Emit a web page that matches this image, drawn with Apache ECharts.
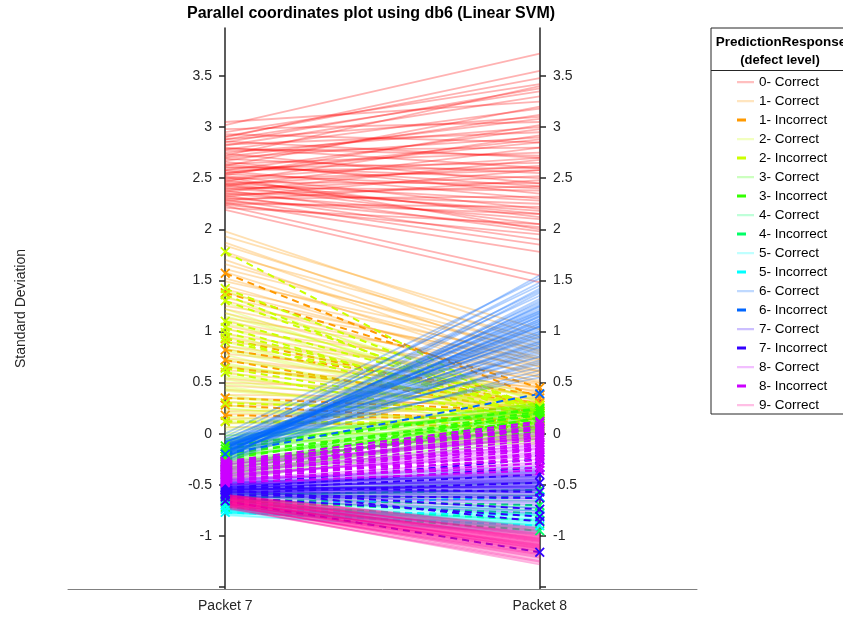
<!DOCTYPE html>
<html><head><meta charset="utf-8">
<script src="https://cdn.jsdelivr.net/npm/echarts@6/dist/echarts.min.js"></script>
<style>html,body{margin:0;padding:0;background:#fff}#c{width:843px;height:617px}</style>
</head><body><div id="c"></div>
<script>
const categories = ['Packet 7', 'Packet 8'];
const yTicks = [-1.5, -1, -0.5, 0, 0.5, 1, 1.5, 2, 2.5, 3, 3.5];
const yLabels = [-1, -0.5, 0, 0.5, 1, 1.5, 2, 2.5, 3, 3.5];
const legendTitle = ['PredictionResponse', '(defect level)'];
const classNames = ['0- Correct','1- Correct','1- Incorrect','2- Correct','2- Incorrect','3- Correct','3- Incorrect','4- Correct','4- Incorrect','5- Correct','5- Incorrect','6- Correct','6- Incorrect','7- Correct','7- Incorrect','8- Correct','8- Incorrect','9- Correct'];

const c0_p7 = [3.05,3.02,2.98,2.95,2.93,2.90,2.88,2.86,2.85,2.83,
 2.82,2.80,2.78,2.77,2.75,2.74,2.72,2.70,2.69,2.67,
 2.66,2.64,2.62,2.61,2.60,2.58,2.57,2.55,2.54,2.53,
 2.52,2.50,2.49,2.48,2.47,2.46,2.45,2.44,2.43,2.42,
 2.41,2.40,2.39,2.38,2.37,2.36,2.35,2.34,2.33,2.32,
 2.31,2.30,2.29,2.28,2.27,2.26,2.25,2.24,2.23,2.21,
 2.19,2.88,2.55,2.71,2.63,2.44,2.58,2.91,2.79,2.51];
const c0_p8 = [3.25,3.72,3.05,3.42,2.85,3.55,3.10,2.70,3.38,2.95,
 3.30,2.60,3.18,2.80,3.00,2.45,3.40,2.90,2.55,3.12,
 2.35,2.75,3.20,2.50,2.65,2.98,2.30,2.85,2.40,3.02,
 2.20,2.70,2.58,2.12,2.92,2.45,2.28,2.62,2.05,2.80,
 2.38,2.18,2.52,1.98,2.68,2.25,2.10,2.42,1.90,2.58,
 2.02,2.32,1.85,2.48,2.15,1.78,2.22,1.95,1.55,2.05,
 1.48,3.35,2.88,3.08,2.42,2.15,2.60,3.48,2.72,2.00];

const c1_p7 = [1.98,1.93,1.87,1.84,1.78,1.75,1.70,1.66,1.61,1.58,
 1.52,1.49,1.45,1.41,1.38,1.33,1.30,1.25,1.22,1.18,
 1.13,1.10,1.06,1.02,0.98,0.95,0.90,0.86,0.83,0.78,
 0.74,0.71,0.66,0.62,0.59,0.54,0.50,0.47,0.43,0.38,
 0.35,0.31,0.27,0.22,0.19,0.14,0.10,0.06];
const c1_p8 = [0.95,1.02,0.80,0.88,0.72,0.92,0.65,0.78,0.85,0.60,
 0.70,0.82,0.55,0.75,0.62,0.68,0.50,0.73,0.58,0.45,
 0.66,0.52,0.40,0.61,0.48,0.35,0.56,0.44,0.30,0.50,
 0.38,0.42,0.28,0.46,0.33,0.25,0.40,0.30,0.22,0.35,
 0.27,0.20,0.32,0.24,0.18,0.28,0.21,0.16];
const c1i_p7 = [1.57,1.38,0.93,0.82,0.72,0.65,0.35,0.28,0.18,0.12];
const c1i_p8 = [0.35,0.45,0.28,0.38,0.20,0.30,0.22,0.10,0.14,0.06];

const c2_p7 = [1.40,1.35,1.28,1.22,1.18,1.12,1.08,1.03,0.98,0.94,
 0.90,0.86,0.81,0.77,0.73,0.69,0.65,0.61,0.57,0.53,
 0.49,0.46,0.42,0.38,0.35,0.31,0.28,0.24,0.21,0.17,
 0.14,0.10,0.07,0.04,0.01,-0.02,-0.05,-0.08,0.55,0.83,
 1.15,0.25,0.67,0.12,0.44];
const c2_p8 = [0.30,0.22,0.35,0.18,0.26,0.12,0.32,0.20,0.15,0.28,
 0.08,0.24,0.17,0.05,0.21,0.13,0.27,0.02,0.19,0.10,
 0.23,0.06,0.16,0.00,0.12,0.20,-0.03,0.09,0.14,-0.06,
 0.04,0.11,-0.08,0.07,-0.02,0.03,-0.10,-0.05,0.25,0.18,
 0.33,0.01,0.29,-0.04,0.14];
const c2i_p7 = [1.78,1.42,1.36,1.30,1.10,1.04,0.99,0.94,0.90,0.64,0.60,0.30,0.12];
const c2i_p8 = [0.18,0.25,0.12,0.20,0.28,0.15,0.22,0.08,0.26,0.14,0.05,0.20,0.10];

const c3_p7 = [-0.05,-0.10,-0.14,-0.18,-0.22,-0.25,-0.28,-0.31,-0.34,-0.37,
 -0.40,-0.43,-0.08,-0.16,-0.24,-0.30,-0.36,-0.12,-0.20,-0.27,
 -0.33,-0.02,-0.39,-0.45,-0.15,-0.26,-0.06,-0.35,-0.21,-0.42];
const c3_p8 = [0.28,0.22,0.15,0.25,0.10,0.20,0.05,0.18,0.12,0.02,
 0.08,-0.02,0.30,0.14,0.24,0.06,0.16,0.26,0.11,0.03,
 0.21,0.19,0.00,-0.05,0.27,0.09,0.23,0.13,0.04,0.07];
const c3i_p7 = [-0.15,-0.20,-0.25,-0.18,-0.30,-0.22,-0.35,-0.28,-0.12,-0.26,-0.32,-0.40];
const c3i_p8 = [0.25,0.18,0.22,0.12,0.20,0.08,0.15,0.05,0.24,0.02,0.10,0.16];

const c4_p7 = [-0.55,-0.58,-0.61,-0.63,-0.66,-0.60,-0.69,-0.57,-0.65,-0.62];
const c4_p8 = [-0.48,-0.60,-0.72,-0.80,-0.90,-0.55,-0.85,-0.66,-0.75,-0.95];
const c4i_p7 = [-0.60,-0.64,-0.68,-0.72,-0.62,-0.66];
const c4i_p8 = [-0.55,-0.70,-0.85,-0.95,-0.62,-0.78];

const c5_p7 = [-0.72,-0.74,-0.75,-0.76,-0.77,-0.78,-0.73,-0.79,-0.75,-0.74,
 -0.77,-0.71,-0.76,-0.78,-0.73,-0.80,-0.75,-0.77,-0.74,-0.76];
const c5_p8 = [-0.78,-0.85,-0.92,-0.80,-0.95,-0.88,-0.75,-0.98,-0.83,-0.90,
 -0.86,-0.72,-0.93,-0.81,-0.87,-0.96,-0.79,-0.91,-0.84,-0.89];
const c5i_p7 = [-0.70,-0.74,-0.77];
const c5i_p8 = [-0.62,-0.80,-0.90];

const c6_p7 = [-0.05,-0.08,-0.10,-0.12,-0.14,-0.15,-0.17,-0.18,-0.20,-0.21,
 -0.22,-0.24,-0.25,-0.27,-0.09,-0.11,-0.13,-0.16,-0.19,-0.23,
 -0.06,-0.12,-0.18,-0.20,-0.15,-0.10,-0.22,-0.14,-0.17,-0.26,
 -0.03,-0.08,-0.13,-0.19,-0.21,-0.11,-0.16,-0.24,-0.07,-0.18,
 -0.12,-0.20,-0.15,-0.09,-0.23,-0.14,-0.17,-0.10,-0.19,-0.13,
 0.00,-0.28,-0.16,-0.21,-0.11,-0.18,-0.08,-0.14,-0.22,-0.12];
const c6_p8 = [1.20,0.95,1.40,0.80,1.10,1.55,0.70,1.25,0.90,1.05,
 0.62,1.32,0.85,1.15,1.48,1.00,0.75,1.22,0.92,1.08,
 1.35,0.68,1.18,0.98,1.28,0.88,1.12,0.58,1.02,0.82,
 1.45,1.14,0.94,1.24,0.72,1.06,0.86,1.30,0.65,1.16,
 0.96,1.38,1.04,0.78,1.26,0.90,1.10,0.55,1.20,1.00,
 1.52,0.84,1.08,1.42,0.76,1.12,0.98,1.18,0.88,1.05];
const c6i_p7 = [-0.20];
const c6i_p8 = [0.39];

const c7_p7 = [-0.45,-0.47,-0.48,-0.50,-0.51,-0.52,-0.53,-0.54,-0.55,-0.56,
 -0.57,-0.58,-0.59,-0.60,-0.61,-0.62,-0.49,-0.52,-0.55,-0.57,
 -0.50,-0.53,-0.56,-0.58,-0.54,-0.51,-0.59,-0.46,-0.60,-0.55,
 -0.52,-0.57,-0.49,-0.54,-0.58,-0.53,-0.56,-0.50,-0.61,-0.48,
 -0.55,-0.52,-0.57,-0.54,-0.63];
const c7_p8 = [-0.32,-0.42,-0.36,-0.48,-0.39,-0.52,-0.45,-0.57,-0.47,-0.54,
 -0.60,-0.50,-0.63,-0.55,-0.66,-0.61,-0.41,-0.46,-0.51,-0.58,
 -0.44,-0.53,-0.48,-0.64,-0.52,-0.37,-0.70,-0.34,-0.73,-0.49,
 -0.45,-0.56,-0.40,-0.53,-0.68,-0.43,-0.55,-0.42,-0.76,-0.38,
 -0.51,-0.47,-0.61,-0.58,-0.78];
const c7i_p7 = [-0.50,-0.53,-0.55,-0.58,-0.52,-0.60,-0.56,-0.62,-0.54,-0.66];
const c7i_p8 = [-0.25,-0.33,-0.40,-0.48,-0.57,-0.63,-0.74,-0.81,-0.86,-1.16];

const c8_p7 = [-0.28,-0.30,-0.33,-0.35,-0.38,-0.40,-0.42,-0.45,-0.47,-0.50,
 -0.31,-0.36,-0.41,-0.44,-0.29,-0.34,-0.39,-0.46,-0.37,-0.43];
const c8_p8 = [0.05,-0.05,0.00,-0.12,-0.08,-0.20,-0.15,-0.25,-0.30,-0.35,
 0.08,-0.02,-0.18,-0.10,-0.04,0.02,-0.22,-0.28,-0.14,-0.40];
const c8i_p7 = [-0.27,-0.29,-0.31,-0.33,-0.35,-0.37,-0.39,-0.41,-0.43,-0.45,
 -0.47,-0.30,-0.34,-0.38,-0.42,-0.46,-0.28,-0.32,-0.36,-0.40,-0.44,-0.48];
const c8i_p8 = [0.12,0.07,0.04,0.01,-0.03,-0.06,-0.09,-0.13,-0.16,-0.19,
 -0.23,0.10,-0.01,-0.11,-0.21,-0.29,0.05,-0.04,-0.15,-0.26,-0.33,-0.36];

const c9_p7 = [-0.60,-0.61,-0.62,-0.63,-0.64,-0.65,-0.66,-0.67,-0.68,-0.69,
 -0.70,-0.71,-0.72,-0.61,-0.63,-0.65,-0.67,-0.69,-0.62,-0.64,
 -0.66,-0.68,-0.70,-0.60,-0.63,-0.66,-0.69,-0.72,-0.62,-0.65,
 -0.68,-0.71,-0.61,-0.64,-0.67,-0.70,-0.63,-0.66,-0.69,-0.62,
 -0.65,-0.68,-0.64,-0.67,-0.71,-0.73,-0.60,-0.66,-0.63,-0.69];
const c9_p8 = [-0.92,-0.95,-1.00,-0.98,-1.05,-1.02,-1.10,-1.08,-1.15,-1.12,
 -1.20,-1.18,-1.25,-0.96,-1.03,-1.07,-1.13,-1.17,-0.99,-1.04,
 -1.09,-1.14,-1.22,-0.94,-1.01,-1.11,-1.16,-1.28,-0.97,-1.06,
 -1.12,-1.19,-1.00,-1.05,-1.10,-1.24,-1.02,-1.08,-1.15,-0.98,
 -1.06,-1.13,-1.03,-1.09,-1.21,-1.26,-0.93,-1.11,-1.04,-1.18];

const classP7 = [c0_p7,c1_p7,c1i_p7,c2_p7,c2i_p7,c3_p7,c3i_p7,c4_p7,c4i_p7,c5_p7,c5i_p7,c6_p7,c6i_p7,c7_p7,c7i_p7,c8_p7,c8i_p7,c9_p7];
const classP8 = [c0_p8,c1_p8,c1i_p8,c2_p8,c2i_p8,c3_p8,c3i_p8,c4_p8,c4i_p8,c5_p8,c5i_p8,c6_p8,c6i_p8,c7_p8,c7i_p8,c8_p8,c8i_p8,c9_p8];
const classIncorrect = [false,false,true,false,true,false,true,false,true,false,true,false,true,false,true,false,true,false];

// styles
const baseRGB = {0:[255,0,0],1:[255,153,0],2:[204,255,0],3:[51,255,0],4:[0,255,102],5:[0,255,255],6:[0,102,255],7:[51,0,255],8:[204,0,255],9:[255,0,153]};
function rgba(c, a){ return 'rgba(' + c[0] + ',' + c[1] + ',' + c[2] + ',' + a + ')'; }
const X_PATH = 'path://M0,1.3L1.3,0L5,3.7L8.7,0L10,1.3L6.3,5L10,8.7L8.7,10L5,6.3L1.3,10L0,8.7L3.7,5Z';
const ICON_CORRECT = 'path://M0,0h0.01v0.01h-0.01z M17,14h-0.01v-0.01h0.01z M0,6h17v2.2h-17z';
const ICON_INCORRECT = 'path://M0,0h0.01v0.01h-0.01z M17,14h-0.01v-0.01h0.01z M0,5.5h9v3h-9z';
const FONT = 'Arial, "Liberation Sans", Helvetica, sans-serif';
const AX = '#262626';

const series = [];
const legendData = [];
classNames.forEach(function(name, k){
  const digit = parseInt(name, 10);
  const col = baseRGB[digit];
  const inc = classIncorrect[k];
  const p7 = classP7[k], p8 = classP8[k];
  const n = Math.min(p7.length, p8.length);
  for (let i = 0; i < n; i++) {
    series.push({
      type: 'line', name: name, silent: true, animation: false,
      data: [p7[i], p8[i]],
      symbol: inc ? X_PATH : 'none', symbolSize: 10, showSymbol: inc,
      itemStyle: { color: rgba(col, 1), borderWidth: 0 },
      lineStyle: inc ? { color: rgba(col, 1), width: 2, type: [7, 5] }
                     : { color: rgba(col, 0.3), width: 1.8 },
      emphasis: { disabled: true }
    });
  }
  legendData.push({
    name: name,
    icon: inc ? ICON_INCORRECT : ICON_CORRECT,
    itemStyle: { color: inc ? rgba(col, 1) : rgba(col, 0.25), borderWidth: 0 }
  });
});

function yAxisCommon(pos) {
  return {
    type: 'value', position: pos, offset: -157, min: -1.52, max: 3.97,
    axisLine: { show: true, onZero: false, lineStyle: { color: AX, width: 1.5 } },
    axisTick: { show: true, length: 6, customValues: yTicks, lineStyle: { color: AX, width: 1.5 } },
    axisLabel: { customValues: yLabels, fontSize: 14, color: AX, margin: 13, fontFamily: FONT },
    splitLine: { show: false }
  };
}
const yLeft = yAxisCommon('left');
yLeft.name = 'Standard Deviation';
yLeft.nameLocation = 'middle';
yLeft.nameGap = 197;
yLeft.nameTextStyle = { fontSize: 14, color: AX, fontFamily: FONT };
const yRight = yAxisCommon('right');

const chart = echarts.init(document.getElementById('c'), null, { renderer: 'canvas' });
chart.setOption({
  animation: false,
  backgroundColor: '#fff',
  title: {
    text: 'Parallel coordinates plot using db6 (Linear SVM)',
    left: 187, top: 6, padding: 0,
    textStyle: { fontSize: 16, fontWeight: 'bold', color: '#000', fontFamily: FONT }
  },
  grid: { left: 68, right: 146, top: 28, bottom: 28, containLabel: false },
  xAxis: {
    type: 'category', data: categories, boundaryGap: true,
    axisLine: { onZero: false, lineStyle: { color: '#808080', width: 1 } },
    axisTick: { show: false },
    axisLabel: { fontSize: 14, color: AX, margin: 10, fontFamily: FONT },
    splitLine: { show: false }
  },
  yAxis: [yLeft, yRight],
  legend: {
    orient: 'vertical', left: 711, top: 28,
    padding: [47, 34, 2, 26],
    borderColor: AX, borderWidth: 1, backgroundColor: '#fff',
    itemWidth: 17, itemHeight: 14, itemGap: 5,
    selectedMode: false,
    textStyle: { fontSize: 13.5, color: '#000', fontFamily: FONT, lineHeight: 14 },
    data: legendData
  },
  graphic: [
    { type: 'line', z: 100, shape: { x1: 711, y1: 70.5, x2: 843, y2: 70.5 }, style: { stroke: AX, lineWidth: 1 } },
    { type: 'text', z: 100, x: 781, y: 42, style: { text: legendTitle[0], textAlign: 'center', textVerticalAlign: 'middle', font: 'bold 13.5px ' + FONT, fill: '#000' } },
    { type: 'text', z: 100, x: 780, y: 60, style: { text: legendTitle[1], textAlign: 'center', textVerticalAlign: 'middle', font: 'bold 13px ' + FONT, fill: '#000' } }
  ],
  series: series
});
</script>
</body></html>
